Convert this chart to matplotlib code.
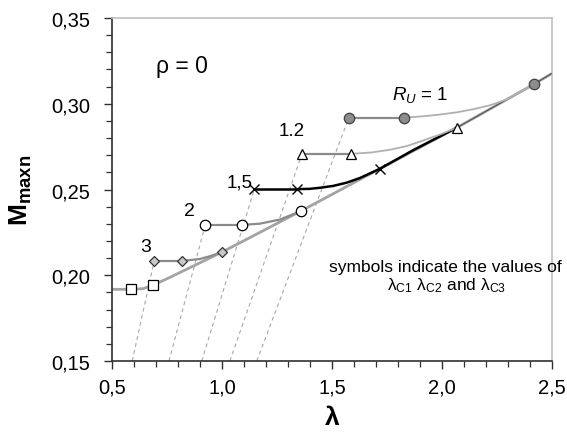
import numpy as np
import matplotlib
matplotlib.use("Agg")
import matplotlib.pyplot as plt
from matplotlib.ticker import MultipleLocator, FuncFormatter

plt.rcParams['font.family'] = ['Liberation Sans', 'DejaVu Sans']
plt.rcParams['mathtext.fontset'] = 'custom'
plt.rcParams['mathtext.rm'] = 'Liberation Sans'
plt.rcParams['mathtext.it'] = 'Liberation Sans:italic'
plt.rcParams['mathtext.bf'] = 'Liberation Sans:bold'

# lambda_c1, lambda_c2, lambda_c3 points for each R_U
ru_labels = ["3", "2", "1,5", "1.2", "1"]
lam_c1 = [0.692, 0.924, 1.147, 1.364, 1.577]
lam_c2 = [0.818, 1.089, 1.339, 1.588, 1.826]
lam_c3 = [1.000, 1.358, 1.718, 2.067, 2.418]
m_plateau = [0.2083, 0.2293, 0.2502, 0.2708, 0.2919]
m_c3 = [0.2135, 0.2374, 0.2621, 0.2860, 0.3114]

# dashed lines start on the lambda axis
dash_x0 = [0.592, 0.759, 0.908, 1.036, 1.158]

# squares (lowest curve)
sq_x = [0.586, 0.688]
sq_y = [0.1918, 0.1943]
sq_line_x = [0.5, 0.586, 0.642, 0.688]
sq_line_y = [0.1918, 0.1918, 0.1922, 0.1943]

# envelope line
env_x = [0.688, 0.764, 1.0, 1.358, 1.718, 2.067, 2.418, 2.5]
env_y = [0.1943, 0.1988, 0.2135, 0.2374, 0.2621, 0.2860, 0.3114, 0.3177]

# rising parts between lambda_c2 and lambda_c3
rise_x = {
    "3": [0.818, 0.900, 0.945, 1.000],
    "2": [1.089, 1.173, 1.264, 1.358],
    "1,5": [1.339, 1.400, 1.445, 1.506, 1.567, 1.627, 1.718, 1.870, 2.067],
    "1.2": [1.588, 1.680, 1.764, 1.840, 1.915, 1.990, 2.067],
    "1": [1.826, 1.915, 1.991, 2.067, 2.142, 2.218, 2.294, 2.418],
}
rise_y = {
    "3": [0.2083, 0.2095, 0.2111, 0.2135],
    "2": [0.2293, 0.2301, 0.2325, 0.2374],
    "1,5": [0.2502, 0.2504, 0.2510, 0.2521, 0.2540, 0.2567, 0.2621, 0.2730, 0.2860],
    "1.2": [0.2708, 0.2716, 0.2732, 0.2753, 0.2786, 0.2820, 0.2860],
    "1": [0.2919, 0.2927, 0.2937, 0.2950, 0.2968, 0.2991, 0.3025, 0.3114],
}

fig = plt.figure(figsize=(5.67, 4.39), dpi=100)
ax = fig.add_axes([0.1975, 0.1754, 0.7760, 0.7813])

GRAY = "#a3a3a3"
DARK = "#8a8a8a"

# dashed lines
for i in range(5):
    ax.plot([dash_x0[i], lam_c1[i]], [0.15, m_plateau[i]], ls=(0, (3.5, 3)),
            color="#a8a8a8", lw=0.8, zorder=1)

# envelope
ax.plot(env_x, env_y, color=GRAY, lw=2.0, zorder=2, solid_capstyle="butt")
ax.plot(env_x[5:], env_y[5:], color="#505050", lw=0.7, zorder=3)
ax.plot(sq_line_x, sq_line_y, color=GRAY, lw=2.0, zorder=2)

styles = {
    "3": dict(color=DARK, lw=1.6),
    "2": dict(color=DARK, lw=1.6),
    "1,5": dict(color="black", lw=1.8),
    "1.2": dict(color=DARK, lw=1.6),
    "1": dict(color=DARK, lw=1.6),
}
for i, lab in enumerate(ru_labels):
    st = styles[lab]
    ax.plot([lam_c1[i], lam_c2[i]], [m_plateau[i], m_plateau[i]], zorder=3, **st)
    if lab in ("1.2", "1"):
        ax.plot(rise_x[lab], rise_y[lab], color="#b0b0b0", lw=1.3, zorder=3)
    else:
        ax.plot(rise_x[lab], rise_y[lab], zorder=3, **st)

# markers
mk = {
    "3": dict(marker="D", ms=5.5, mfc="#c8c8c8", mec="#333333", mew=0.9),
    "2": dict(marker="o", ms=7.5, mfc="white", mec="black", mew=0.9),
    "1,5": dict(marker="x", ms=7, mec="black", mew=1.0),
    "1.2": dict(marker="^", ms=7.5, mfc="white", mec="black", mew=0.9),
    "1": dict(marker="o", ms=7.5, mfc="#8c8c8c", mec="#404040", mew=0.9),
}
for i, lab in enumerate(ru_labels):
    ax.plot([lam_c1[i], lam_c2[i], lam_c3[i]],
            [m_plateau[i], m_plateau[i], m_c3[i]], ls="none", zorder=5, **mk[lab])
ax.plot(sq_x, sq_y, ls="none", marker="s", ms=6.5, mfc="white", mec="black",
        mew=0.9, zorder=5)

# labels on curves
ax.text(0.655, 0.2170, "3", fontsize=14, ha="center", va="center")
ax.text(0.850, 0.2380, "2", fontsize=14, ha="center", va="center")
ax.text(1.082, 0.2544, "1,5", fontsize=13.5, ha="center", va="center")
ax.text(1.318, 0.2844, "1.2", fontsize=13.5, ha="center", va="center")
ax.text(1.900, 0.3059, r"$R_U$ = 1", fontsize=13.5, ha="center", va="center")
ax.text(0.817, 0.3225, "ρ = 0", fontsize=16.5, ha="center", va="center")
ax.text(2.014, 0.2053, "symbols indicate the values of", fontsize=12.5,
        ha="center", va="center")
ax.text(2.022, 0.1948, r"λ$_{\mathrm{C1}}$ λ$_{\mathrm{C2}}$ and λ$_{\mathrm{C3}}$",
        fontsize=12.5, ha="center", va="center")

ax.set_xlim(0.5, 2.5)
ax.set_ylim(0.15, 0.35)
ax.xaxis.set_major_locator(MultipleLocator(0.5))
ax.xaxis.set_minor_locator(MultipleLocator(0.1))
ax.yaxis.set_major_locator(MultipleLocator(0.05))
ax.yaxis.set_minor_locator(MultipleLocator(0.01))
ax.xaxis.set_major_formatter(FuncFormatter(lambda v, p: f"{v:.1f}".replace(".", ",")))
ax.yaxis.set_major_formatter(FuncFormatter(lambda v, p: f"{v:.2f}".replace(".", ",")))
ax.tick_params(which="major", direction="out", length=6, width=1.0,
               labelsize=14.5, color="#303030")
ax.tick_params(axis="x", which="major", pad=6)
ax.tick_params(axis="y", which="major", pad=10)
ax.tick_params(which="minor", direction="out", length=4, width=0.9, color="#303030")

for s in ("left", "bottom"):
    ax.spines[s].set_color("#303030")
    ax.spines[s].set_linewidth(1.2)
for s in ("top", "right"):
    ax.spines[s].set_color("#c0c0c0")
    ax.spines[s].set_linewidth(1.2)

ax.set_xlabel("λ", fontsize=19, fontweight="bold", labelpad=6)
ax.set_ylabel(r"$\mathbf{M_{maxn}}$", fontsize=19, labelpad=12)

fig.savefig("out.png", dpi=100)
